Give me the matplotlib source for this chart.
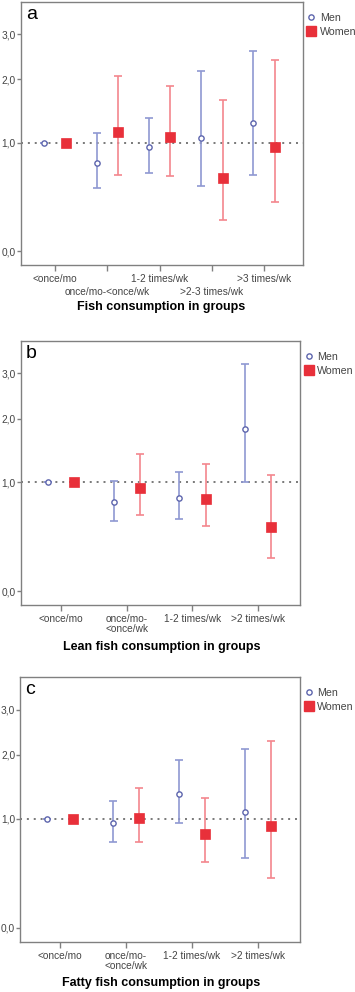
import numpy as np
import matplotlib
matplotlib.use("Agg")
import matplotlib.pyplot as plt
from matplotlib.lines import Line2D

plt.rcParams['font.family'] = ['Liberation Sans', 'DejaVu Sans']

# ---------------- data ----------------
cats_a = ["<once/mo", "once/mo-<once/wk", "1-2 times/wk", ">2-3 times/wk", ">3 times/wk"]
men_a = [1.0, 0.76, 0.94, 1.065, 1.27]
men_a_lo = [1.0, 0.50, 0.65, 0.52, 0.625]
men_a_hi = [1.0, 1.13, 1.335, 2.15, 2.59]
women_a = [1.0, 1.14, 1.07, 0.60, 0.95]
women_a_lo = [1.0, 0.63, 0.615, 0.22, 0.37]
women_a_hi = [1.0, 2.07, 1.875, 1.62, 2.39]

cats_b = ["<once/mo", "once/mo-\n<once/wk", "1-2 times/wk", ">2 times/wk"]
men_b = [1.0, 0.77, 0.81, 1.80]
men_b_lo = [1.0, 0.567, 0.58, 1.0]
men_b_hi = [1.0, 1.017, 1.14, 3.23]
women_b = [1.0, 0.93, 0.795, 0.508]
women_b_lo = [1.0, 0.62, 0.51, 0.235]
women_b_hi = [1.0, 1.40, 1.25, 1.10]

cats_c = ["<once/mo", "once/mo-\n<once/wk", "1-2 times/wk", ">2 times/wk"]
men_c = [1.0, 0.95, 1.345, 1.09]
men_c_lo = [1.0, 0.72, 0.95, 0.557]
men_c_hi = [1.0, 1.243, 1.912, 2.123]
women_c = [1.0, 1.013, 0.818, 0.909]
women_c_lo = [1.0, 0.72, 0.518, 0.368]
women_c_hi = [1.0, 1.431, 1.286, 2.286]

yticks = [0.0, 1.0, 2.0, 3.0]
ytick_labels = ["0,0", "1,0", "2,0", "3,0"]
titles = ["Fish consumption in groups", "Lean fish consumption in groups",
          "Fatty fish consumption in groups"]
panel_letters = ["a", "b", "c"]

# ---------------- style ----------------
W, H = 355, 992
MEN_C = "#5d65ad"
MEN_BAR = "#8f98d2"
WOM_C = "#e8303a"
WOM_BAR = "#f4868d"
TXT = "#444444"
SPINE = "#808080"

fig = plt.figure(figsize=(W / 100, H / 100), dpi=100)

def px_axes(left, top, right, bottom):
    return fig.add_axes([left / W, 1 - bottom / H, (right - left) / W, (bottom - top) / H])

panels = [
    dict(rect=(20.7, 2, 302.7, 265), xlim=(-0.656, 4.736), off=0.205, cats=cats_a,
         men=(men_a, men_a_lo, men_a_hi), women=(women_a, women_a_lo, women_a_hi),
         stagger=True, title_y=306.7),
    dict(rect=(20.7, 341, 300, 605.3), xlim=(-0.613, 3.638), off=0.2, cats=cats_b,
         men=(men_b, men_b_lo, men_b_hi), women=(women_b, women_b_lo, women_b_hi),
         stagger=False, title_y=646.7),
    dict(rect=(20, 677.3, 300, 941.7), xlim=(-0.612, 3.643), off=0.2, cats=cats_c,
         men=(men_c, men_c_lo, men_c_hi), women=(women_c, women_c_lo, women_c_hi),
         stagger=False, title_y=983),
]

for i, p in enumerate(panels):
    ax = px_axes(*p["rect"])
    ax.set_yscale('function', functions=(np.log1p, np.expm1))
    ax.set_ylim(-0.085, 3.91)
    ax.set_xlim(*p["xlim"])
    x = np.arange(len(p["cats"]))

    ax.axhline(1.0, color="#555555", lw=1.1, ls=(0, (1.3, 3.2)), zorder=1)

    m, mlo, mhi = [np.array(v) for v in p["men"]]
    w, wlo, whi = [np.array(v) for v in p["women"]]
    xm = x - p["off"]
    xw = x + p["off"]
    ax.errorbar(xm, m, yerr=[m - mlo, mhi - m], fmt='none', ecolor=MEN_BAR,
                elinewidth=1.2, capsize=3, capthick=1.2, zorder=2)
    ax.errorbar(xw, w, yerr=[w - wlo, whi - w], fmt='none', ecolor=WOM_BAR,
                elinewidth=1.2, capsize=3, capthick=1.2, zorder=2)
    ax.plot(xm, m, 'o', ms=3.8, mfc='white', mec=MEN_C, mew=1.0, ls='none', zorder=3)
    ax.plot(xw, w, 's', ms=6.6, mfc=WOM_C, mec=WOM_C, mew=0.5, ls='none', zorder=3)

    for s in ax.spines.values():
        s.set_color(SPINE)
        s.set_linewidth(1.0)

    ax.set_yticks(yticks)
    ax.set_yticklabels(ytick_labels)
    ax.yaxis.set_minor_locator(matplotlib.ticker.NullLocator())
    ax.tick_params(axis='y', length=3, width=1, color=SPINE, labelsize=7.3,
                   labelcolor=TXT, pad=0.5)
    ax.set_xticks(x)
    ax.set_xticklabels(p["cats"], linespacing=1.0)
    ax.tick_params(axis='x', length=4, width=1, color=SPINE, labelsize=7.3,
                   labelcolor=TXT, pad=2.5)
    if p["stagger"]:
        for j, t in enumerate(ax.xaxis.get_major_ticks()):
            if j % 2 == 1:
                t.tick1line.set_markersize(10)
                t.set_pad(11.5)
    ax.text(0.018, 0.985, panel_letters[i], transform=ax.transAxes, fontsize=14,
            va='top', ha='left', color='black')

    handles = [Line2D([], [], marker='o', ls='none', ms=3.8, mfc='white', mec=MEN_C, mew=1.0),
               Line2D([], [], marker='s', ls='none', ms=6.6, mfc=WOM_C, mec=WOM_C)]
    ax.legend(handles, ["Men", "Women"], loc='upper left', bbox_to_anchor=(1.0, 0.975),
              frameon=False, fontsize=7.7, labelcolor=TXT, handlelength=0.8,
              handletextpad=0.4, borderaxespad=0.2, labelspacing=0.35, borderpad=0.2)

    fig.text(161.5 / W, 1 - p["title_y"] / H, titles[i], ha='center', va='center',
             fontsize=9, fontweight='bold', color='black')

fig.savefig("out.png", dpi=100)
